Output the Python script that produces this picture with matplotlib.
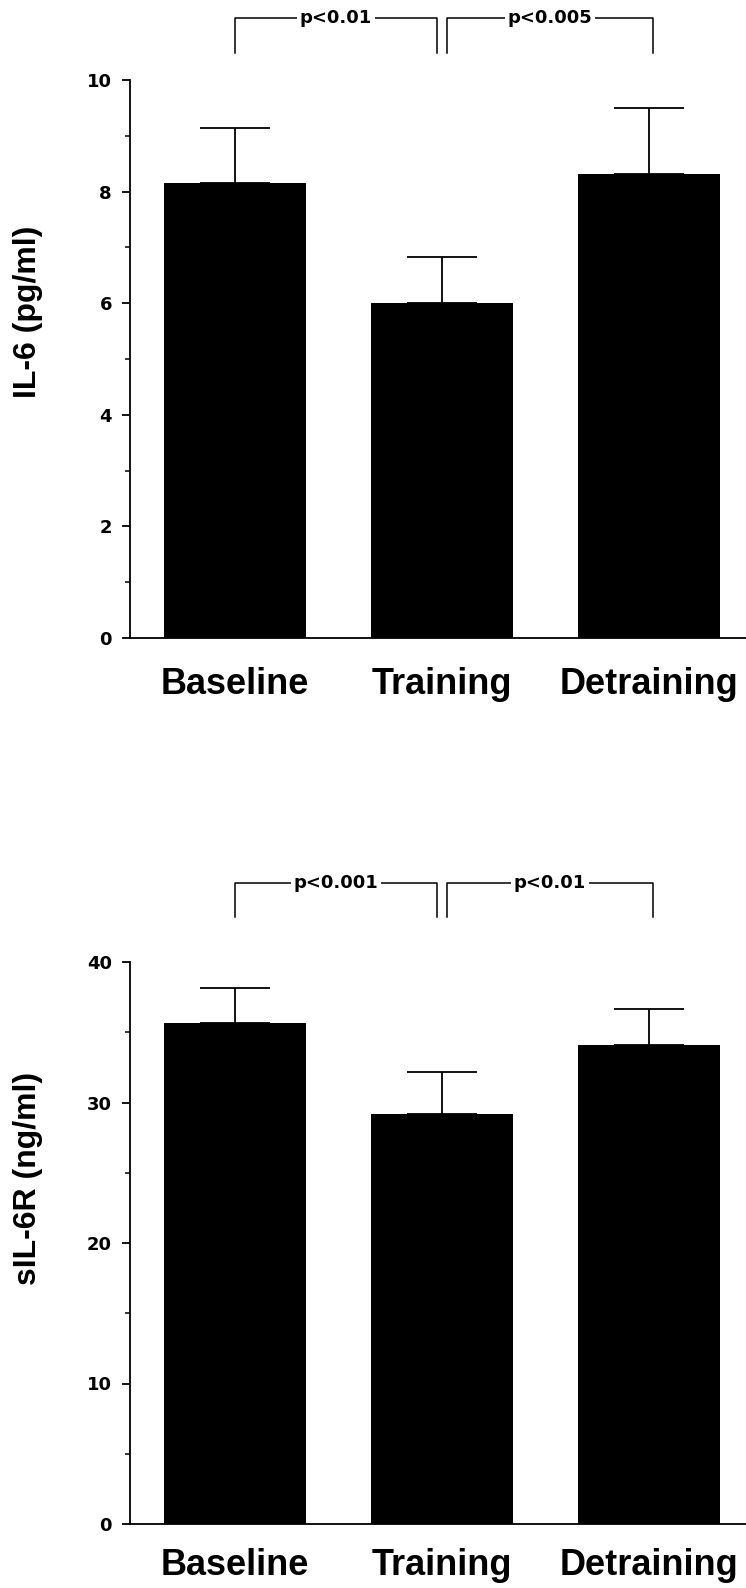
import matplotlib
matplotlib.use("Agg")
import matplotlib.pyplot as plt
from matplotlib.ticker import MultipleLocator

# data
groups = ["Baseline", "Training", "Detraining"]
il6_mean = [8.15, 6.0, 8.31]
il6_sem = [0.99, 0.83, 1.19]
sil6r_mean = [35.66, 29.2, 34.1]
sil6r_sem = [2.49, 3.0, 2.55]
il6_pvals = ["p<0.01", "p<0.005"]
sil6r_pvals = ["p<0.001", "p<0.01"]

W, H = 746, 1588
fig = plt.figure(figsize=(W / 100, H / 100), dpi=100)


def panel(rect, means, sems, ylim, major, minor, ylabel, ylabel_y, pvals,
          br_top, br_bot, xpad):
    ax = fig.add_axes(rect)
    x = list(range(len(groups)))
    ax.bar(x, means, width=0.69, color="black", zorder=2)
    ax.errorbar(x, means, yerr=[[0] * len(sems), sems], fmt="none",
                ecolor="black", elinewidth=1.3, capsize=25, capthick=1.3,
                zorder=1)
    ax.set_xlim(-0.507, 2.469)
    ax.set_ylim(*ylim)
    ax.spines[["top", "right"]].set_visible(False)
    ax.spines["left"].set_linewidth(1.3)
    ax.spines["bottom"].set_linewidth(1.3)
    ax.yaxis.set_major_locator(MultipleLocator(major))
    ax.yaxis.set_minor_locator(MultipleLocator(minor))
    ax.tick_params(axis="y", which="major", direction="out", length=6,
                   width=1.3, pad=7, labelsize=13)
    ax.tick_params(axis="y", which="minor", direction="out", length=3.5,
                   width=1.1)
    for t in ax.get_yticklabels():
        t.set_fontweight("bold")
        t.set_family("DejaVu Sans")
    ax.set_xticks(x)
    ax.set_xticklabels(groups, family="Liberation Sans", fontweight="bold",
                       fontsize=26)
    ax.tick_params(axis="x", length=0, pad=xpad)

    fig.text(28 / W, 1 - ylabel_y / H, ylabel, rotation=90, ha="center",
             va="center", fontsize=23, fontweight="bold",
             family="Liberation Sans")

    # significance brackets
    pairs = [(0, 1 - 0.024), (1 + 0.024, 2 + 0.02)]
    for (a, b), txt in zip(pairs, pvals):
        ax.plot([a, a, b, b], [br_bot, br_top, br_top, br_bot],
                color="black", lw=1.1, clip_on=False)
        ax.text((a + b) / 2, br_top, txt, ha="center", va="center",
                fontsize=13, fontweight="bold", family="DejaVu Sans",
                bbox=dict(facecolor="white", edgecolor="none", pad=2),
                clip_on=False)
    return ax


panel([130 / W, (H - 638) / H, (W - 130) / W, (638 - 80) / H],
      il6_mean, il6_sem, (0, 10), 2, 1, "IL-6 (pg/ml)", 312, il6_pvals,
      11.11, 10.48, 21)

panel([130 / W, (H - 1524) / H, (W - 130) / W, (1524 - 962) / H],
      sil6r_mean, sil6r_sem, (0, 40), 10, 5, "sIL-6R (ng/ml)", 1178,
      sil6r_pvals, 45.6, 43.2, 17)

fig.savefig("out.png", dpi=100)
